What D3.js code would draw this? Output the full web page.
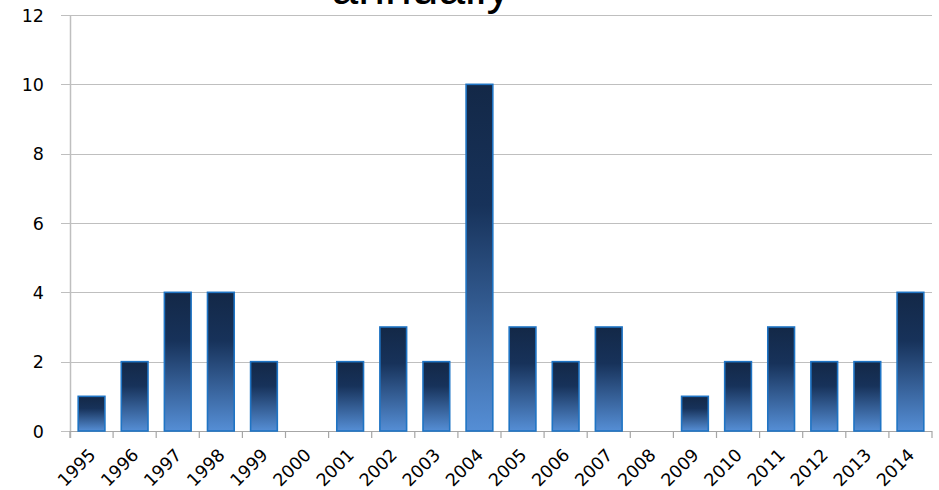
<!DOCTYPE html>
<html>
<head>
<meta charset="utf-8">
<script src="https://cdn.jsdelivr.net/npm/d3@7"></script>
<style>
  html, body { margin: 0; padding: 0; background: #fff; }
  svg { display: block; }
</style>
</head>
<body>
<svg id="chart" width="939" height="490"></svg>
<script>
const years = ["1995","1996","1997","1998","1999","2000","2001","2002","2003","2004",
               "2005","2006","2007","2008","2009","2010","2011","2012","2013","2014"];
const counts = [1,2,4,4,2,0,2,3,2,10,3,2,3,0,1,2,3,2,2,4];
const yTicks = [0,2,4,6,8,10,12];
const titleText = "annually";

const svg = d3.select("#chart");
const W = 939, H = 490;
const m = { left: 70, right: 7, top: 15, bottom: 59 };

const x = d3.scaleBand().domain(years).range([m.left, W - m.right]).paddingInner(0.38).paddingOuter(0.19);
const y = d3.scaleLinear().domain([0, 12]).range([H - m.bottom, m.top]);

// bar fill: navy top fading to light blue at the base
const defs = svg.append("defs");
const grad = defs.append("linearGradient").attr("id", "barGrad")
  .attr("x1", 0).attr("y1", 0).attr("x2", 0).attr("y2", 1);
grad.append("stop").attr("offset", "0%").attr("stop-color", "#132847");
grad.append("stop").attr("offset", "35%").attr("stop-color", "#17325a");
grad.append("stop").attr("offset", "100%").attr("stop-color", "#558ed5");

// title (runs off the top edge)
svg.append("text")
  .attr("x", 421).attr("y", 4)
  .attr("text-anchor", "middle")
  .attr("font-family", "Liberation Sans, Arial, sans-serif")
  .attr("font-size", 48)
  .attr("fill", "#000")
  .text(titleText);

// horizontal gridlines
svg.append("g").selectAll("line").data(yTicks).join("line")
  .attr("x1", m.left - 9).attr("x2", W - m.right)
  .attr("y1", d => Math.round(y(d)) + 0.5).attr("y2", d => Math.round(y(d)) + 0.5)
  .attr("stroke", "#bfbfbf").attr("stroke-width", 1.2);

// y tick labels
svg.append("g").selectAll("text").data(yTicks).join("text")
  .attr("x", 44).attr("y", d => y(d) + 6.5)
  .attr("text-anchor", "end")
  .attr("font-family", "DejaVu Sans, Verdana, sans-serif")
  .attr("font-size", 17.5)
  .attr("fill", "#000")
  .text(d => d);

// vertical axis line
svg.append("line")
  .attr("x1", m.left + 0.5).attr("x2", m.left + 0.5)
  .attr("y1", y(12)).attr("y2", y(0) + 7)
  .attr("stroke", "#bfbfbf").attr("stroke-width", 1.5);

// x axis base and category boundary ticks
svg.append("line")
  .attr("x1", m.left).attr("x2", W - m.right)
  .attr("y1", Math.round(y(0)) + 0.5).attr("y2", Math.round(y(0)) + 0.5)
  .attr("stroke", "#a6a6a6").attr("stroke-width", 1.2);
const step = x.step();
const bounds = d3.range(years.length + 1).map(i => m.left + i * step);
svg.append("g").selectAll("line").data(bounds).join("line")
  .attr("x1", d => d).attr("x2", d => d)
  .attr("y1", y(0)).attr("y2", y(0) + 7)
  .attr("stroke", "#a6a6a6").attr("stroke-width", 1.2);

// bars
svg.append("g").selectAll("rect").data(years.map((yr, i) => ({ yr, v: counts[i] })).filter(d => d.v > 0))
  .join("rect")
  .attr("x", d => x(d.yr))
  .attr("width", x.bandwidth())
  .attr("y", d => y(d.v))
  .attr("height", d => y(0) - y(d.v))
  .attr("fill", "url(#barGrad)")
  .attr("stroke", "#1f74c4")
  .attr("stroke-width", 1.6);

// rotated year labels
svg.append("g").selectAll("text").data(years).join("text")
  .attr("transform", d => `translate(${x(d) + x.bandwidth() / 2 + 5},${y(0) + 25}) rotate(-45)`)
  .attr("text-anchor", "end")
  .attr("font-family", "DejaVu Sans, Verdana, sans-serif")
  .attr("font-size", 17.5)
  .attr("fill", "#000")
  .text(d => d);
</script>
</body>
</html>
